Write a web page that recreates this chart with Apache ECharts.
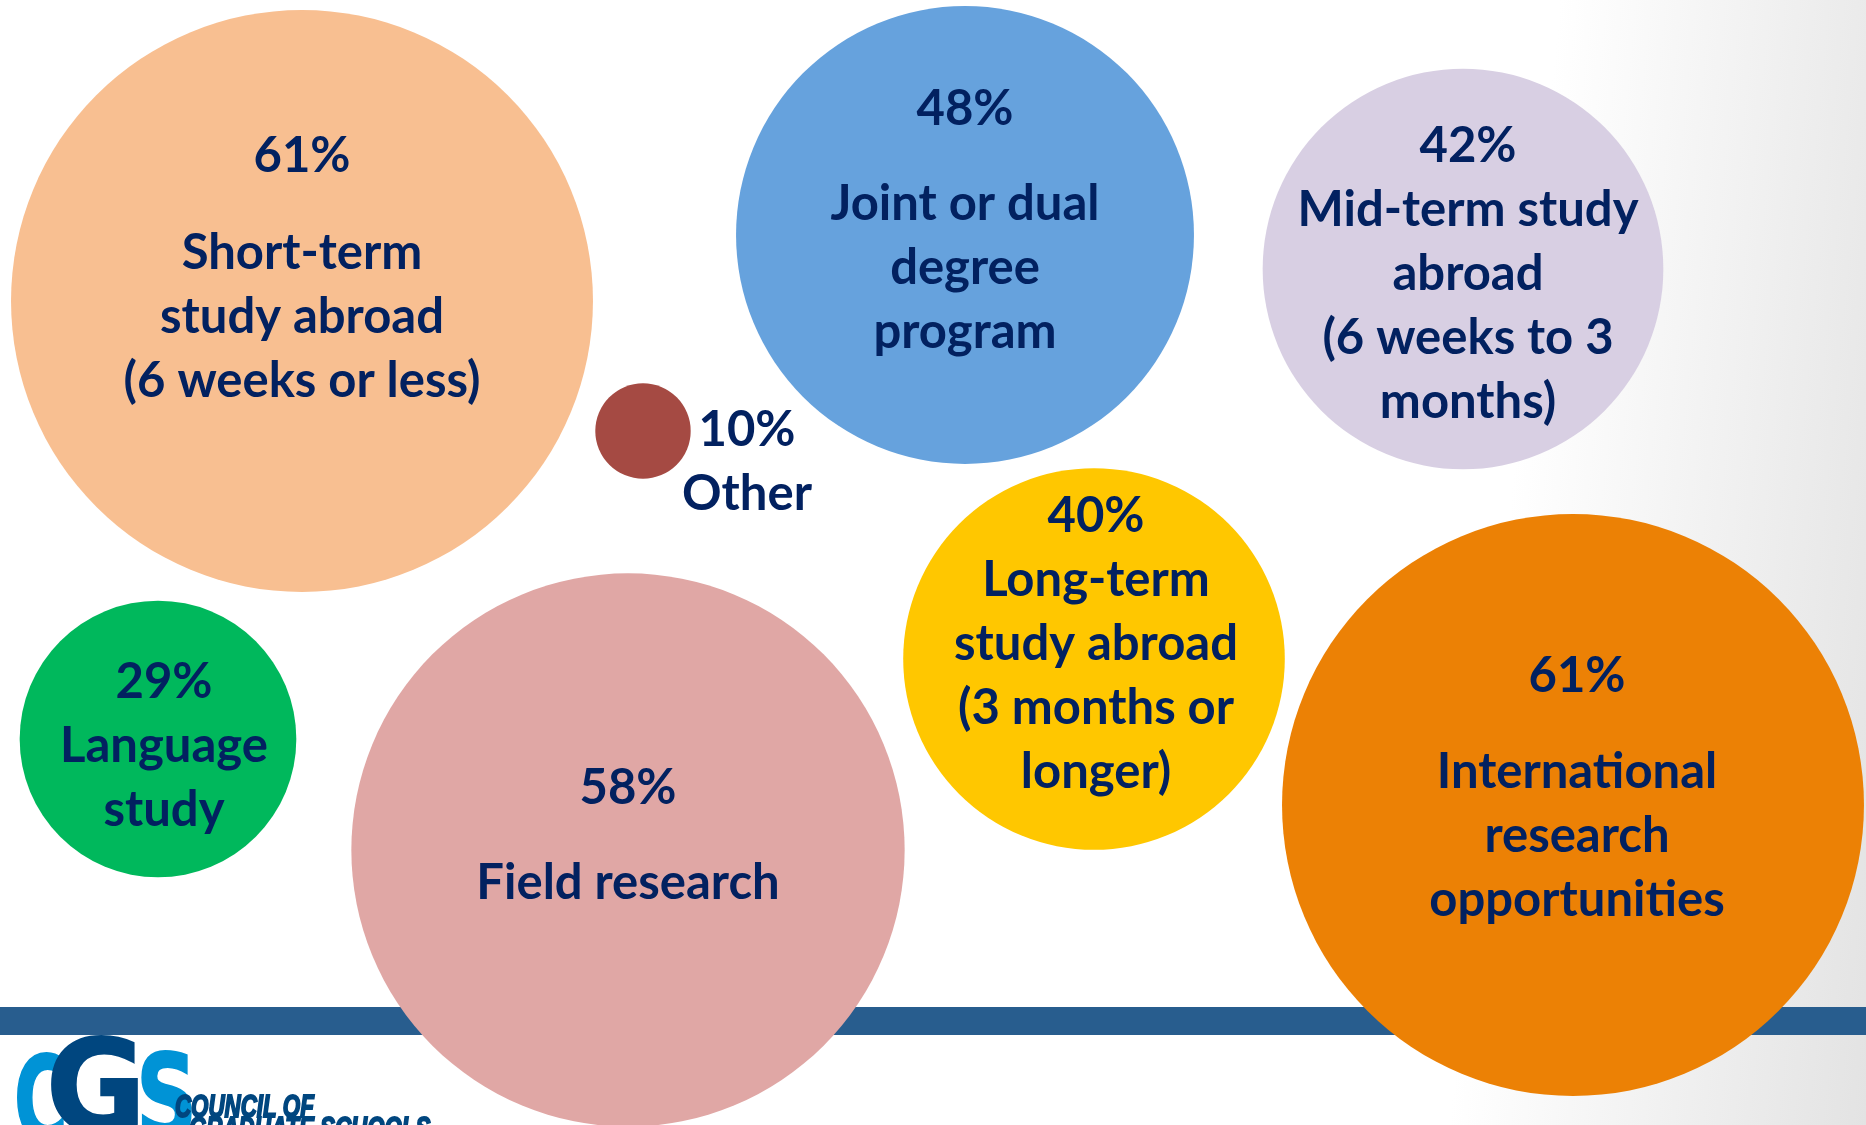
<!DOCTYPE html>
<html>
<head>
<meta charset="utf-8">
<title>International collaboration program types</title>
<script src="https://cdn.jsdelivr.net/npm/echarts@6/dist/echarts.min.js"></script>
<style>
html, body { margin: 0; padding: 0; background: #fff; }
#bubbles { width: 1866px; height: 1125px; }
</style>
</head>
<body>
<div id="bubbles"></div>
<script>
// share of institutions offering each program type (%)
var categories = [
    'Short-term study abroad (6 weeks or less)',
    'Joint or dual degree program',
    'Mid-term study abroad (6 weeks to 3 months)',
    'Other',
    'Long-term study abroad (3 months or longer)',
    'Language study',
    'Field research',
    'International research opportunities'
];
var labelLines = [
    ['Short-term', 'study abroad', '(6 weeks or less)'],
    ['Joint or dual', 'degree', 'program'],
    ['Mid-term study', 'abroad', '(6 weeks to 3', 'months)'],
    ['Other'],
    ['Long-term', 'study abroad', '(3 months or', 'longer)'],
    ['Language', 'study'],
    ['Field research'],
    ['International', 'research', 'opportunities']
];
var values = [61, 48, 42, 10, 40, 29, 58, 61];

// bubble layout on the page (layout units = px of the slide)
var posX = [302, 965, 1463, 643, 1094, 158, 628, 1573];
var posY = [301, 235, 269, 431, 659, 739, 850, 805];

var colors = ['#F8BF91', '#66A2DD', '#D8CFE3', '#A54A43', '#FFC700', '#00B85C', '#E0A7A5', '#EC8105'];
var gapAfterPct = [33, 31, 0, 0, 0, 0, 31, 32];
var labelShift = [[0, -32], [0, -14], [5, 5], [104, 31], [2, -15], [6, 7], [0, -14], [4, -17]];

var navy = '#022160';
var sizePerPoint = 9.54;   // bubble diameter grows linearly with the value

var chart = echarts.init(document.getElementById('bubbles'));

var data = values.map(function (v, i) {
    var lines = ['{p|' + v + '%}'];
    if (gapAfterPct[i]) lines.push('{g| }');
    labelLines[i].forEach(function (l) { lines.push('{t|' + l + '}'); });
    return {
        name: categories[i],
        value: [posX[i], posY[i], v],
        itemStyle: { color: colors[i], opacity: 1 },
        label: {
            offset: labelShift[i],
            formatter: lines.join('\n'),
            rich: {
                p: { fontSize: 49, lineHeight: 64, fontWeight: 'bold', color: navy, fontFamily: 'Lato' },
                t: { fontSize: 49, lineHeight: 64, fontWeight: 'bold', color: navy, fontFamily: 'Lato' },
                g: { fontSize: 1, lineHeight: gapAfterPct[i] || 1 }
            }
        }
    };
});

function logoText(txt, x, y, sx, color, font) {
    return {
        type: 'text', x: x, y: y, scaleX: sx, silent: true, z: 1,
        style: {
            text: txt, fill: color, stroke: color, lineWidth: 2,
            font: font, textVerticalAlign: 'top'
        }
    };
}

option = {
    animation: false,
    grid: { left: 0, right: 0, top: 0, bottom: 0 },
    xAxis: { type: 'value', min: 0, max: 1866, show: false },
    yAxis: { type: 'value', min: 0, max: 1125, inverse: true, show: false },
    graphic: [
        {
            type: 'rect', z: -10, silent: true,
            shape: { x: 0, y: 0, width: 1866, height: 1125 },
            style: {
                fill: new echarts.graphic.LinearGradient(0.836, 0, 1.057, 0.036, [
                    { offset: 0, color: '#ffffff' },
                    { offset: 1, color: '#e3e3e3' }
                ])
            }
        },
        {
            type: 'rect', z: 0, silent: true,
            shape: { x: 0, y: 1007, width: 1866, height: 28 },
            style: { fill: '#285D8E' }
        },
        // CGS logo, bottom left
        logoText('C', 14, 1050, 0.62, '#0093D6', 'bold 118px "DejaVu Sans"'),
        logoText('G', 46, 1034, 0.95, '#00467F', 'bold 128px "DejaVu Sans"'),
        logoText('S', 136, 1048, 0.72, '#0093D6', 'bold 118px "DejaVu Sans"'),
        logoText('COUNCIL OF', 175, 1093, 0.72, '#00467F', 'italic bold 31px "Liberation Sans"'),
        logoText('GRADUATE SCHOOLS', 189, 1115, 0.72, '#00467F', 'italic bold 31px "Liberation Sans"')
    ],
    series: [
        {
            type: 'scatter',
            clip: false,
            symbol: 'circle',
            symbolSize: function (val) { return val[2] * sizePerPoint; },
            emphasis: { disabled: true },
            label: {
                show: true,
                position: 'inside',
                align: 'center',
                verticalAlign: 'middle'
            },
            data: data
        }
    ]
};

chart.setOption(option);
</script>
</body>
</html>
